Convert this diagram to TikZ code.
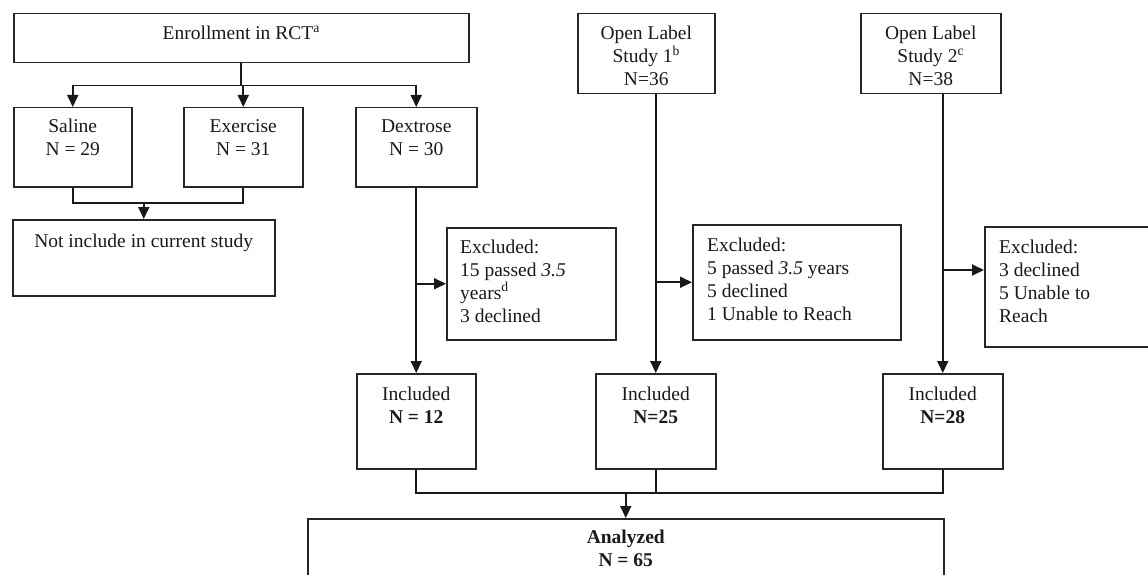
\documentclass[tikz,border=0pt]{standalone}
\usepackage{fontspec}
\setmainfont{Liberation Serif}
\usetikzlibrary{arrows.meta,calc}
\newcommand\ctr[2]{\parbox[t]{#1pt}{\centering #2}}
\newcommand\lft[2]{\parbox[t]{#1pt}{\raggedright #2}}
\begin{document}
\begin{tikzpicture}[x=1pt,y=-1pt,
  box/.style={draw=black!85, line width=1.5pt, inner sep=0pt, anchor=north west},
  txt/.style={inner sep=0pt, anchor=base, text=black!90, font=\fontsize{19.5}{23}\selectfont},
  ltxt/.style={txt, anchor=base west},
  conn/.style={line width=1.8pt, draw=black!90},
  arr/.style={conn, -{Triangle[length=12pt,width=11pt]}}]
\useasboundingbox (0,0) rectangle (1148,575);
\clip (0,0) rectangle (1148,575);
% boxes
\node[box, minimum width=455pt, minimum height=49pt] (enr) at (13,13) {};
\node[box, minimum width=118pt, minimum height=79pt] (sal) at (13,107) {};
\node[box, minimum width=119pt, minimum height=79pt] (exe) at (183,107) {};
\node[box, minimum width=121pt, minimum height=79pt] (dex) at (355,107) {};
\node[box, minimum width=262pt, minimum height=76pt] (not) at (12,219) {};
\node[box, minimum width=137pt, minimum height=80pt] (ol1) at (577,13) {};
\node[box, minimum width=140pt, minimum height=80pt] (ol2) at (860,13) {};
\node[box, minimum width=169pt, minimum height=112pt] (exc1) at (446,227) {};
\node[box, minimum width=208pt, minimum height=115pt] (exc2) at (692,224) {};
\node[box, minimum width=200pt, minimum height=120pt] (exc3) at (984,226) {};
\node[box, minimum width=119pt, minimum height=95pt] (inc1) at (356,373) {};
\node[box, minimum width=120pt, minimum height=95pt] (inc2) at (595,373) {};
\node[box, minimum width=120pt, minimum height=95pt] (inc3) at (882,373) {};
\node[box, minimum width=636pt, minimum height=100pt] (ana) at (307,518) {};
% texts
\node[txt] (enrT) at ($(enr.north)+(0,27)$) {\ctr{440}{Enrollment in RCT\textsuperscript{a}}};
\node[txt] (salT) at ($(sal.north)+(0,25)$) {\ctr{115}{Saline\\N = 29}};
\node[txt] (exeT) at ($(exe.north)+(0,25)$) {\ctr{115}{Exercise\\N = 31}};
\node[txt] (dexT) at ($(dex.north)+(0,25)$) {\ctr{115}{Dextrose\\N = 30}};
\node[txt] (notT) at ($(not.north)+(0,28)$) {\ctr{258}{Not include in current study}};
\node[txt] (ol1T) at ($(ol1.north)+(0,27)$) {\ctr{134}{Open Label\\Study 1\textsuperscript{b}\\N=36}};
\node[txt] (ol2T) at ($(ol2.north)+(0,27)$) {\ctr{136}{Open Label\\Study 2\textsuperscript{c}\\N=38}};
\node[ltxt] (exc1T) at ($(exc1.north west)+(14,26)$) {\lft{150}{Excluded:\\15 passed \textit{3.5}\\years\textsuperscript{d}\\3 declined}};
\node[ltxt] (exc2T) at ($(exc2.north west)+(15,27)$) {\lft{190}{Excluded:\\5 passed \textit{3.5} years\\5 declined\\1 Unable to Reach}};
\node[ltxt] (exc3T) at ($(exc3.north west)+(15,27)$) {\lft{150}{Excluded:\\3 declined\\5 Unable to\\Reach}};
\node[txt] (inc1T) at ($(inc1.north)+(0,27)$) {\ctr{115}{Included\\\textbf{N = 12}}};
\node[txt] (inc2T) at ($(inc2.north)+(0,27)$) {\ctr{115}{Included\\\textbf{N=25}}};
\node[txt] (inc3T) at ($(inc3.north)+(0,27)$) {\ctr{115}{Included\\\textbf{N=28}}};
\node[txt] (anaT) at ($(ana.north)+(0,25)$) {\ctr{300}{\textbf{Analyzed}\\\textbf{N = 65}}};
% connectors: RCT split
\draw[conn] (enr.south) -- ++(0,22) coordinate (j1);
\draw[conn] (sal.north |- j1) -- (dex.north |- j1);
\draw[arr] (sal.north |- j1) -- (sal.north);
\draw[arr] (exe.north |- j1) -- (exe.north);
\draw[arr] (dex.north |- j1) -- (dex.north);
% saline + exercise merge
\coordinate (j2) at (143,203);
\draw[conn] (sal.south) -- (sal.south |- j2) -- (exe.south |- j2) -- (exe.south);
\draw[arr] (not.north |- j2) -- (not.north);
% dextrose path
\draw[arr] (dex.south) -- (inc1.north);
\draw[arr] (inc1.north |- exc1.west) -- (exc1.west);
% open label 1
\draw[arr] (inc2.north |- ol1.south) -- (inc2.north);
\draw[arr] (inc2.north |- exc2.west) -- (exc2.west);
% open label 2
\coordinate (e3) at ($(exc3.north west)+(0,44)$);
\draw[arr] (inc3.north |- ol2.south) -- (inc3.north);
\draw[arr] (inc3.north |- e3) -- (e3);
% merge into analyzed
\coordinate (j3) at (625,493);
\draw[conn] (inc1.south) -- (inc1.south |- j3) -- (inc3.south |- j3) -- (inc3.south);
\draw[conn] (inc2.south) -- (inc2.south |- j3);
\draw[arr] (ana.north |- j3) -- (ana.north);
\end{tikzpicture}
\end{document}
